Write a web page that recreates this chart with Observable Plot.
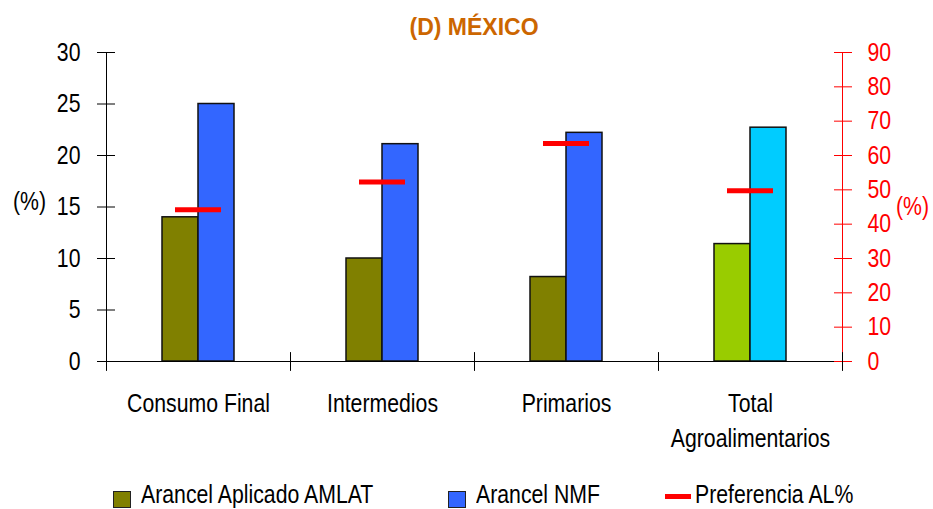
<!DOCTYPE html>
<html>
<head>
<meta charset="utf-8">
<script src="https://cdn.jsdelivr.net/npm/d3@7"></script>
<script src="https://cdn.jsdelivr.net/npm/@observablehq/plot@0.6"></script>
<style>
  body { margin: 0; background: #fff; font-family: "Liberation Sans", Arial, sans-serif; }
  #wrap { position: relative; width: 933px; height: 509px; }
  #title { position: absolute; left: 105px; width: 738px; top: 13px; text-align: center; color: #CC6600;
           font-family: "Liberation Sans", Arial, sans-serif; font-weight: bold; font-size: 23px; line-height: 28px; }
  #chart { position: absolute; left: 0; top: 40px; }
  #legend { position: absolute; left: 0; top: 480px; width: 933px; height: 29px; }
  .item { position: absolute; top: 0; height: 29px; display: flex; align-items: flex-start; font-size: 25px; line-height: 29px; color: #000; white-space: nowrap; }
  .item .tx { display: inline-block; transform: scaleX(0.85); transform-origin: left center; }
  .sw { flex: none; width: 18px; height: 17px; border: 1.5px solid #222; box-sizing: border-box; margin-right: 10px; margin-top: 11px; }
  .dash { flex: none; width: 26px; height: 5px; background: #f00; margin-right: 4px; margin-top: 14px; }
</style>
</head>
<body>
<div id="wrap">
  <div id="title"></div>
  <div id="chart"></div>
  <div id="legend"></div>
</div>
<script>
// ---- data ----
const titleText = "(D) MÉXICO";
const categories = ["Consumo Final", "Intermedios", "Primarios", "Total Agroalimentarios"];
const categoryLabels = ["Consumo Final", "Intermedios", "Primarios", "Total\nAgroalimentarios"];
const series = ["Arancel Aplicado AMLAT", "Arancel NMF"];
const amlat = [14.0, 10.0, 8.2, 11.4];
const nmf = [25.0, 21.1, 22.2, 22.7];
const preferenciaLabel = "Preferencia AL%";
const preferencia = [44.2, 52.3, 63.5, 49.7];
const leftTicks = [0, 5, 10, 15, 20, 25, 30];
const rightTicks = [0, 10, 20, 30, 40, 50, 60, 70, 80, 90];
const axisLabel = "(%)";

// ---- styles ----
const leftMax = 30, rightMax = 90, ratio = rightMax / leftMax;
const seriesColors = ["#808000", "#3366FF"];
const totalColors = ["#99CC00", "#00CCFF"];
const prefColor = "#FF0000";
const fontFamily = '"Liberation Sans", Arial, sans-serif';
const condenseFactor = 0.85;

const rows = categories.flatMap((c, i) => [
  {cat: c, serie: series[0], value: amlat[i]},
  {cat: c, serie: series[1], value: nmf[i]}
]);
const fillFor = d => {
  const k = series.indexOf(d.serie);
  return d.cat === categories[categories.length - 1] ? totalColors[k] : seriesColors[k];
};

const tickShape = {draw(context, l) { context.moveTo(0, 0); context.lineTo(0, -l); }};

const chart = Plot.plot({
  width: 933,
  height: 430,
  marginLeft: 105,
  marginRight: 90,
  marginTop: 12,
  marginBottom: 109,
  style: {fontFamily, fontSize: "25px", color: "#000", background: "transparent", overflow: "visible"},
  fx: {domain: categories, padding: 0, label: null},
  x: {domain: series, paddingInner: 0, paddingOuter: 1.53, axis: null},
  y: {domain: [0, leftMax]},
  color: {type: "identity"},
  marks: [
    Plot.barY(rows, {fx: "cat", x: "serie", y: "value", fill: fillFor, stroke: "#111", strokeWidth: 1.5}),
    Plot.ruleY([0], {stroke: "#000", strokeWidth: 1}),
    Plot.tickY(categories, {fx: d => d, y: (d, i) => preferencia[i] / ratio, stroke: prefColor, strokeWidth: 5, insetLeft: 69, insetRight: 69}),
    // axis lines
    Plot.frame({anchor: "left", facetAnchor: "left", stroke: "#000", strokeWidth: 1}),
    Plot.frame({anchor: "right", facetAnchor: "right", stroke: prefColor, strokeWidth: 1}),
    // left axis
    Plot.axisY(leftTicks, {anchor: "left", tickSize: 18, insetLeft: 9, tickPadding: 17, fontSize: 25, label: null, color: "#000"}),
    // right axis (scaled onto left domain)
    Plot.axisY(rightTicks.map(v => v / ratio), {anchor: "right", tickSize: 18, insetRight: 9, tickPadding: 16, fontSize: 25, label: null,
      color: prefColor, tickFormat: d => String(Math.round(d * ratio))}),
    // category boundary ticks
    Plot.vector(categories, {fx: d => d, frameAnchor: "bottom-left", length: 18, rotate: 0, anchor: "middle", shape: tickShape, stroke: "#000", strokeWidth: 1}),
    Plot.vector(categories.slice(-1), {fx: d => d, frameAnchor: "bottom-right", length: 18, rotate: 0, anchor: "middle", shape: tickShape, stroke: "#000", strokeWidth: 1}),
    // category labels
    Plot.axisFx({anchor: "bottom", tickSize: 0, tickPadding: 26, fontSize: 25, lineHeight: 1.4, label: null,
      tickFormat: d => categoryLabels[categories.indexOf(d)]}),
    // axis unit labels
    Plot.text([axisLabel], {frameAnchor: "left", facetAnchor: "left", textAnchor: "middle", dx: -77, dy: -5, fontSize: 25, fill: "#000"}),
    Plot.text([axisLabel], {frameAnchor: "right", facetAnchor: "right", textAnchor: "middle", dx: 70, fontSize: 25, fill: prefColor})
  ]
});
document.getElementById("chart").appendChild(chart);
document.getElementById("title").textContent = titleText;

// emulate a narrow typeface by compressing glyphs horizontally
chart.querySelectorAll("text").forEach(t => {
  const spans = t.querySelectorAll("tspan");
  const targets = spans.length ? Array.from(spans) : [t];
  for (const el of targets) {
    const len = el.getComputedTextLength();
    if (len > 0) {
      el.setAttribute("textLength", (len * condenseFactor).toFixed(2));
      el.setAttribute("lengthAdjust", "spacingAndGlyphs");
    }
  }
});

// legend
const legend = document.getElementById("legend");
const items = [
  {left: 113, kind: "sw", color: seriesColors[0], label: series[0]},
  {left: 448, kind: "sw", color: seriesColors[1], label: series[1]},
  {left: 665, kind: "dash", color: prefColor, label: preferenciaLabel}
];
for (const it of items) {
  const el = document.createElement("div");
  el.className = "item";
  el.style.left = it.left + "px";
  const sw = document.createElement("span");
  sw.className = it.kind;
  sw.style.background = it.color;
  const tx = document.createElement("span");
  tx.className = "tx";
  tx.textContent = it.label;
  el.appendChild(sw);
  el.appendChild(tx);
  legend.appendChild(el);
}
</script>
</body>
</html>
